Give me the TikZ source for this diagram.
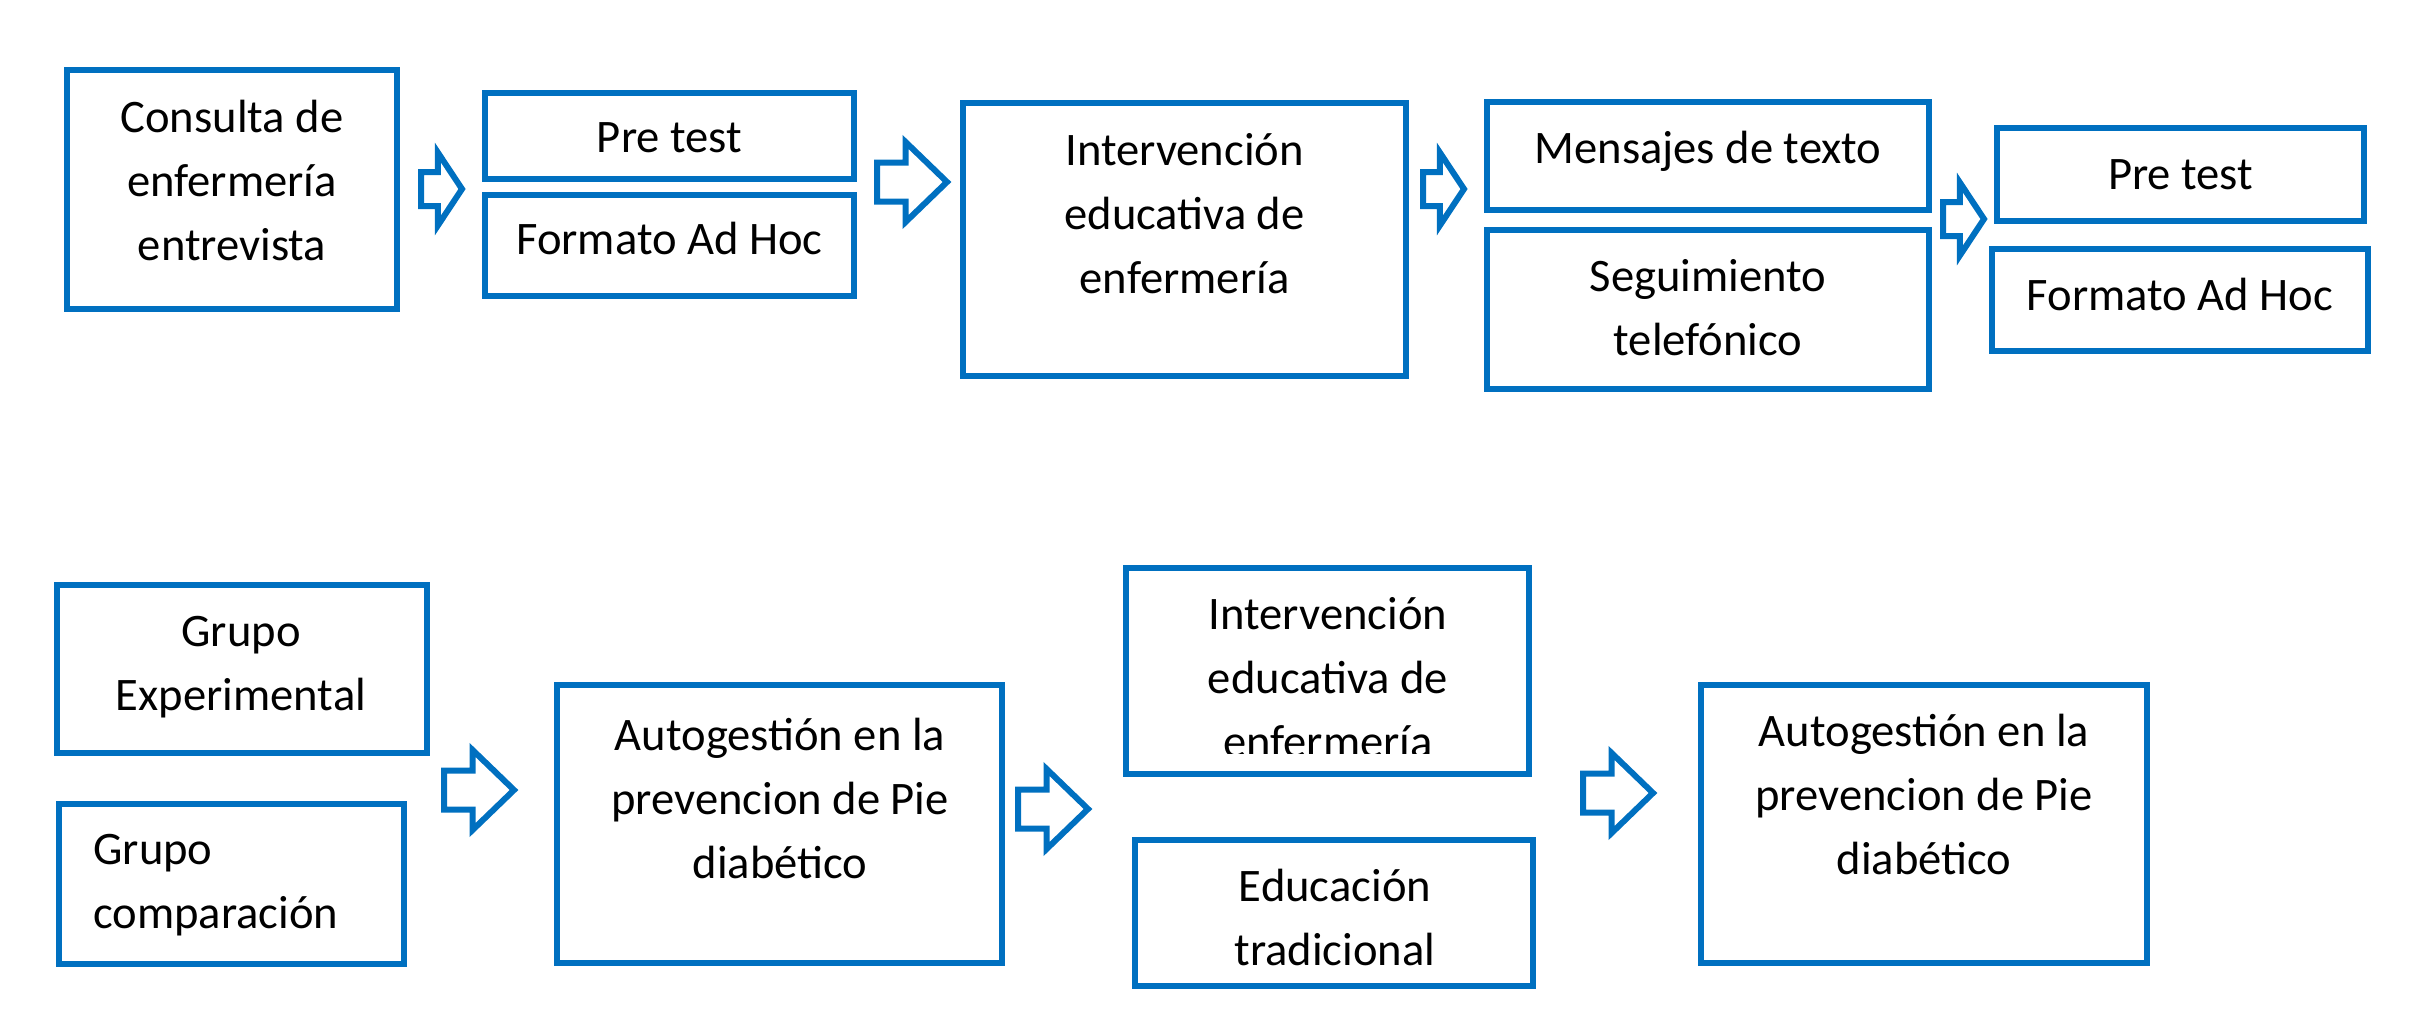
\documentclass[tikz,border=0pt]{standalone}
\usepackage{fontspec}
\setmainfont{Carlito}
\usetikzlibrary{shapes.arrows}
\definecolor{azul}{HTML}{0070C0}
\tikzset{
    caja/.style={draw=azul,line width=3pt,rectangle,inner sep=0pt},
    texto/.style={font=\fontsize{23.3pt}{31.8pt}\selectfont,align=center,anchor=base,inner sep=0pt},
    flechita/.style={draw=azul,line width=3pt,single arrow,anchor=tail,inner xsep=0pt,inner ysep=7pt,
        minimum height=20.5pt,minimum width=33.5pt,single arrow head extend=9.75pt,single arrow tip angle=113},
    flechota/.style={draw=azul,line width=3pt,single arrow,anchor=tail,inner xsep=0pt,inner ysep=8.25pt,
        minimum height=35pt,minimum width=37pt,single arrow head extend=10.25pt,single arrow tip angle=88}
}
\begin{document}
\begin{tikzpicture}[x=0.5pt,y=-0.5pt]
    \useasboundingbox (0,0) rectangle (2426,1034);
    % fila de arriba
    \node[caja,minimum width=165pt,minimum height=119.5pt] (consulta) at (232,189.5) {};
    \node[texto] (tconsulta) at (232,260) {Consulta de\\enfermería\\entrevista};
    \node[caja,minimum width=184.5pt,minimum height=43pt] (pretestA) at (669.5,136) {};
    \node[texto] (tpretestA) at (669.5,152) {Pre test};
    \node[caja,minimum width=184.5pt,minimum height=50.5pt] (formatoA) at (669.5,245.5) {};
    \node[texto] (tformatoA) at (669.5,254) {Formato Ad Hoc};
    \node[caja,minimum width=221.5pt,minimum height=136.5pt] (intervA) at (1184.5,239.5) {};
    \node[texto] (tintervA) at (1184.5,293) {Intervención\\educativa de\\enfermería};
    \node[caja,minimum width=221pt,minimum height=54pt] (mensajes) at (1708,156) {};
    \node[texto] (tmensajes) at (1708,163) {Mensajes de texto};
    \node[caja,minimum width=221pt,minimum height=79.5pt] (seguimiento) at (1708,309.5) {};
    \node[texto] (tseguimiento) at (1708,355) {Seguimiento\\telefónico};
    \node[caja,minimum width=183.5pt,minimum height=46.5pt] (pretestB) at (2180.5,174.5) {};
    \node[texto] (tpretestB) at (2180.5,189) {Pre test};
    \node[caja,minimum width=188pt,minimum height=51pt] (formatoB) at (2180,300) {};
    \node[texto] (tformatoB) at (2180,310) {Formato Ad Hoc};
    \node[flechita] (f1) at (418,189) {};
    \node[flechota] (f2) at (874,182) {};
    \node[flechita] (f3) at (1420,189) {};
    \node[flechita] (f4) at (1940,219) {};
    % fila de abajo
    \node[caja,minimum width=185pt,minimum height=84pt] (grupoexp) at (242,669) {};
    \node[texto] (tgrupoexp) at (241,710) {Grupo\\Experimental};
    \node[caja,minimum width=172.5pt,minimum height=80pt] (grupocomp) at (231.5,884) {};
    \node[texto,align=left,anchor=base west] (tgrupocomp) at (93,928) {Grupo\\comparación};
    \node[caja,minimum width=222.5pt,minimum height=139pt] (autogA) at (779.5,824) {};
    \node[texto] (tautogA) at (780,878) {Autogestión en la\\prevencion de Pie\\diabético};
    \node[caja,minimum width=201.5pt,minimum height=103pt] (intervB) at (1327.5,671) {};
    \node[texto] (tintervB) at (1328,757) {Intervención\\educativa de\\enfermería};
    \fill[white] (1129,754) rectangle (1526,770.5);
    \node[caja,minimum width=199pt,minimum height=73pt] (educacion) at (1334,913) {};
    \node[texto] (teducacion) at (1335,965) {Educación\\tradicional};
    \node[caja,minimum width=223pt,minimum height=139pt] (autogB) at (1924,824) {};
    \node[texto] (tautogB) at (1924,874) {Autogestión en la\\prevencion de Pie\\diabético};
    \node[flechota] (f5) at (441,790) {};
    \node[flechota] (f6) at (1015,809) {};
    \node[flechota] (f7) at (1580,793) {};
\end{tikzpicture}
\end{document}
